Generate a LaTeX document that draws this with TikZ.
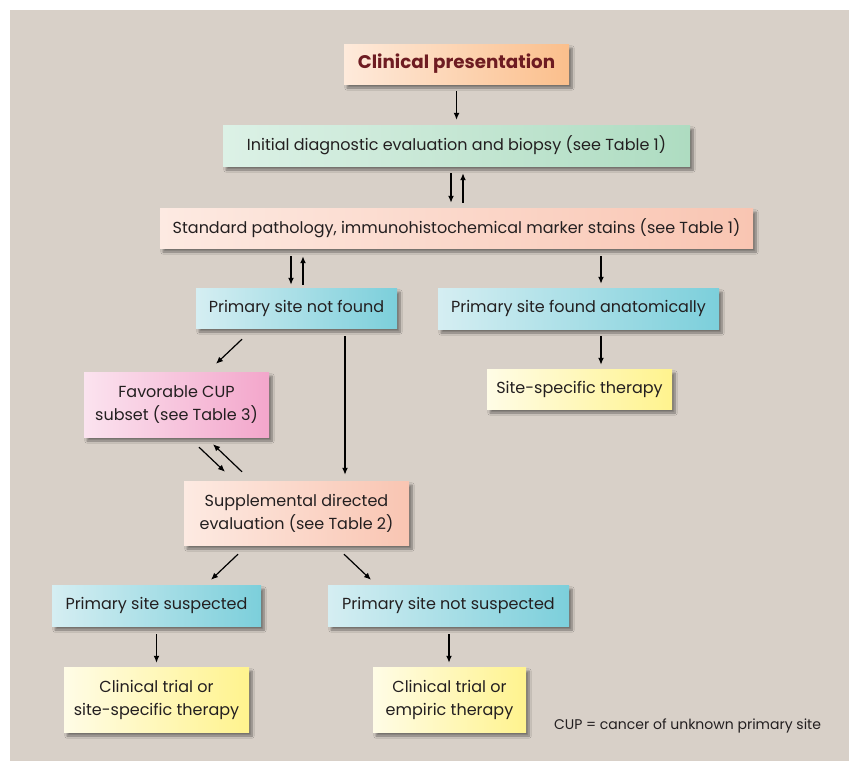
\documentclass[tikz,border=0pt]{standalone}
\usepackage{fontspec}
\setmainfont{Poppins}
\usetikzlibrary{arrows.meta,calc,shadows.blur}
\definecolor{bg}{HTML}{D8D0C8}
\definecolor{txt}{HTML}{231F20}
\definecolor{title}{HTML}{6E1C22}
\definecolor{peachL}{HTML}{FEEADB}\definecolor{peachR}{HTML}{FBBF8C}
\definecolor{mintL}{HTML}{DCF1E6}\definecolor{mintR}{HTML}{AEDCC1}
\definecolor{salL}{HTML}{FDEAE2}\definecolor{salR}{HTML}{F9C5B2}
\definecolor{cyanL}{HTML}{D5EEF2}\definecolor{cyanR}{HTML}{7CCFDB}
\definecolor{yelL}{HTML}{FFFCE6}\definecolor{yelR}{HTML}{FFF38E}
\definecolor{pinkL}{HTML}{FBE3EF}\definecolor{pinkR}{HTML}{F3A6CB}
\begin{document}
\begin{tikzpicture}[x=1pt,y=-1pt,
  box/.style={rectangle, inner sep=0pt, align=center, text=txt,
    font=\fontsize{16}{23}\selectfont,
    blur shadow={shadow xshift=3pt, shadow yshift=-4pt, shadow blur steps=8, shadow opacity=45}},
  peachbox/.style={box, left color=peachL, right color=peachR},
  mintbox/.style={box, left color=mintL, right color=mintR},
  salbox/.style={box, left color=salL, right color=salR},
  cyanbox/.style={box, left color=cyanL, right color=cyanR},
  yelbox/.style={box, left color=yelL, right color=yelR},
  pinkbox/.style={box, left color=pinkL, right color=pinkR},
  arr/.style={-{Latex[length=7pt,width=6pt]}, line width=1.2pt, black},
  arrb/.style={arr, line width=1.7pt},
]
\useasboundingbox (0,0) rectangle (849,761);
\fill[white] (0,0) rectangle (849,761);
\fill[bg] (10,10) rectangle (849,761);

\node[peachbox, minimum width=225pt, minimum height=40pt, text=title,
  font=\fontsize{18.3}{22}\selectfont\bfseries] (cp) at (456.5,64) {Clinical presentation};
\node[mintbox, minimum width=467pt, minimum height=41pt] (init) at (456.5,145.5)
  {Initial diagnostic evaluation and biopsy (see Table 1)};
\node[salbox, minimum width=593pt, minimum height=40pt] (std) at (456.5,228)
  {Standard pathology, immunohistochemical marker stains (see Table 1)};
\node[cyanbox, minimum width=201pt, minimum height=40pt] (nf) at (296.5,308)
  {Primary site not found};
\node[cyanbox, minimum width=281pt, minimum height=41pt] (fa) at (578.5,308.5)
  {Primary site found anatomically};
\node[yelbox, minimum width=185pt, minimum height=40pt] (sst) at (579.5,389)
  {Site-specific therapy};
\node[pinkbox, minimum width=185pt, minimum height=65pt] (fav) at (176.5,404.5)
  {Favorable CUP\\subset (see Table 3)};
\node[salbox, minimum width=225pt, minimum height=64pt] (sup) at (296.5,513)
  {Supplemental directed\\evaluation (see Table 2)};
\node[cyanbox, minimum width=209pt, minimum height=41pt] (ps) at (156.5,605.5)
  {Primary site suspected};
\node[cyanbox, minimum width=241pt, minimum height=41pt] (pns) at (448.5,605.5)
  {Primary site not suspected};
\node[yelbox, minimum width=185pt, minimum height=65pt] (ct1) at (156.5,699.5)
  {Clinical trial or\\site-specific therapy};
\node[yelbox, minimum width=153pt, minimum height=65pt] (ct2) at (449.5,699.5)
  {Clinical trial or\\empiric therapy};
\node[text=txt, inner sep=0pt, font=\fontsize{14}{16}\selectfont] (note) at (687.5,726)
  {CUP = cancer of unknown primary site};

\draw[arr] ($(cp.south)+(0,7)$) -- ($(init.north)+(0,-5)$);
\draw[arrb] ($(init.south)+(-5.5,7)$) -- ($(std.north)+(-5.5,-5)$);
\draw[arrb] ($(std.north)+(6.5,-5)$) -- ($(init.south)+(6.5,7)$);
\draw[arrb] ($(nf.north |- std.south)+(-5.5,8)$) -- ($(nf.north)+(-5.5,-3)$);
\draw[arrb] ($(nf.north)+(6.5,-3)$) -- ($(nf.north |- std.south)+(6.5,8)$);
\draw[arrb] ($(fa.north |- std.south)+(22.5,8)$) -- ($(fa.north)+(22.5,-4)$);
\draw[arrb] ($(fa.south)+(22.5,7)$) -- ($(sst.north)+(21.5,-4)$);
\draw[arr] ($(nf.south)+(-54.5,11)$) -- ($(fav.north)+(39.5,-8)$);
\draw[arrb] ($(nf.south)+(48.5,8)$) -- ($(sup.north)+(48.5,-6)$);
\draw[arr] ($(fav.south)+(22.5,10)$) -- ($(sup.north)+(-71.5,-9)$);
\draw[arr] ($(sup.north)+(-54.5,-9)$) -- ($(fav.south)+(36.5,7)$);
\draw[arr] ($(sup.south)+(-58.5,9)$) -- ($(ps.north)+(54.5,-5)$);
\draw[arr] ($(sup.south)+(47.5,9)$) -- ($(pns.north)+(-77.5,-5)$);
\draw[arrb] ($(ps.south)+(0,8)$) -- ($(ct1.north)+(0,-4)$);
\draw[arrb] ($(pns.south)+(0.5,8)$) -- ($(ct2.north)+(-0.5,-4)$);
\end{tikzpicture}
\end{document}
